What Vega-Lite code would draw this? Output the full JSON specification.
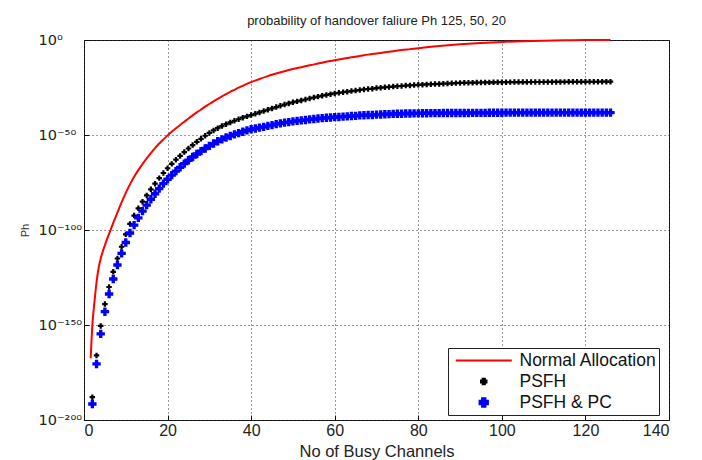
{
  "$schema": "https://vega.github.io/schema/vega-lite/v6.json",
  "width": 585,
  "height": 380,
  "autosize": {"type": "none"},
  "padding": {"left": 84, "top": 40, "right": 33, "bottom": 40},
  "background": "white",
  "config": {"font": "Liberation Sans", "view": {"stroke": "#111", "strokeWidth": 1}},
  "title": {"text": "probability of handover faliure Ph 125, 50, 20", "fontSize": 13, "fontWeight": "normal", "color": "#222", "offset": 4, "anchor": "middle"},
  "data": {"values": [
    {"series": "Normal Allocation", "n": 1.6, "log10P": -167.5},
    {"series": "Normal Allocation", "n": 2, "log10P": -150},
    {"series": "Normal Allocation", "n": 2.5, "log10P": -138},
    {"series": "Normal Allocation", "n": 3, "log10P": -127.5},
    {"series": "Normal Allocation", "n": 3.5, "log10P": -120},
    {"series": "Normal Allocation", "n": 4, "log10P": -115},
    {"series": "Normal Allocation", "n": 5, "log10P": -108},
    {"series": "Normal Allocation", "n": 6, "log10P": -102},
    {"series": "Normal Allocation", "n": 7, "log10P": -96.3},
    {"series": "Normal Allocation", "n": 8, "log10P": -90.8},
    {"series": "Normal Allocation", "n": 9, "log10P": -85.5},
    {"series": "Normal Allocation", "n": 10, "log10P": -80.5},
    {"series": "Normal Allocation", "n": 11, "log10P": -76},
    {"series": "Normal Allocation", "n": 12, "log10P": -72},
    {"series": "Normal Allocation", "n": 13, "log10P": -68.5},
    {"series": "Normal Allocation", "n": 14, "log10P": -65.3},
    {"series": "Normal Allocation", "n": 15, "log10P": -62.3},
    {"series": "Normal Allocation", "n": 16, "log10P": -59.5},
    {"series": "Normal Allocation", "n": 17, "log10P": -56.9},
    {"series": "Normal Allocation", "n": 18, "log10P": -54.5},
    {"series": "Normal Allocation", "n": 19, "log10P": -52.3},
    {"series": "Normal Allocation", "n": 20, "log10P": -50.2},
    {"series": "Normal Allocation", "n": 21, "log10P": -48.3},
    {"series": "Normal Allocation", "n": 22, "log10P": -46.5},
    {"series": "Normal Allocation", "n": 23, "log10P": -44.7},
    {"series": "Normal Allocation", "n": 24, "log10P": -43},
    {"series": "Normal Allocation", "n": 25, "log10P": -41.3},
    {"series": "Normal Allocation", "n": 26, "log10P": -39.7},
    {"series": "Normal Allocation", "n": 27, "log10P": -38.1},
    {"series": "Normal Allocation", "n": 28, "log10P": -36.6},
    {"series": "Normal Allocation", "n": 29, "log10P": -35.1},
    {"series": "Normal Allocation", "n": 30, "log10P": -33.7},
    {"series": "Normal Allocation", "n": 31, "log10P": -32.3},
    {"series": "Normal Allocation", "n": 32, "log10P": -31},
    {"series": "Normal Allocation", "n": 33, "log10P": -29.7},
    {"series": "Normal Allocation", "n": 34, "log10P": -28.5},
    {"series": "Normal Allocation", "n": 35, "log10P": -27.3},
    {"series": "Normal Allocation", "n": 36, "log10P": -26.2},
    {"series": "Normal Allocation", "n": 37, "log10P": -25.1},
    {"series": "Normal Allocation", "n": 38, "log10P": -24.1},
    {"series": "Normal Allocation", "n": 39, "log10P": -23.1},
    {"series": "Normal Allocation", "n": 40, "log10P": -22.2},
    {"series": "Normal Allocation", "n": 42, "log10P": -20.5},
    {"series": "Normal Allocation", "n": 44, "log10P": -19},
    {"series": "Normal Allocation", "n": 46, "log10P": -17.6},
    {"series": "Normal Allocation", "n": 48, "log10P": -16.4},
    {"series": "Normal Allocation", "n": 50, "log10P": -15.3},
    {"series": "Normal Allocation", "n": 52, "log10P": -14.3},
    {"series": "Normal Allocation", "n": 54, "log10P": -13.3},
    {"series": "Normal Allocation", "n": 56, "log10P": -12.4},
    {"series": "Normal Allocation", "n": 58, "log10P": -11.5},
    {"series": "Normal Allocation", "n": 60, "log10P": -10.7},
    {"series": "Normal Allocation", "n": 62, "log10P": -9.9},
    {"series": "Normal Allocation", "n": 64, "log10P": -9.1},
    {"series": "Normal Allocation", "n": 66, "log10P": -8.4},
    {"series": "Normal Allocation", "n": 68, "log10P": -7.7},
    {"series": "Normal Allocation", "n": 70, "log10P": -7.1},
    {"series": "Normal Allocation", "n": 72, "log10P": -6.5},
    {"series": "Normal Allocation", "n": 74, "log10P": -5.9},
    {"series": "Normal Allocation", "n": 76, "log10P": -5.3},
    {"series": "Normal Allocation", "n": 78, "log10P": -4.8},
    {"series": "Normal Allocation", "n": 80, "log10P": -4.3},
    {"series": "Normal Allocation", "n": 85, "log10P": -3.2},
    {"series": "Normal Allocation", "n": 90, "log10P": -2.3},
    {"series": "Normal Allocation", "n": 95, "log10P": -1.6},
    {"series": "Normal Allocation", "n": 100, "log10P": -1.0},
    {"series": "Normal Allocation", "n": 105, "log10P": -0.6},
    {"series": "Normal Allocation", "n": 110, "log10P": -0.35},
    {"series": "Normal Allocation", "n": 115, "log10P": -0.15},
    {"series": "Normal Allocation", "n": 120, "log10P": -0.05},
    {"series": "Normal Allocation", "n": 126, "log10P": 0},
    {"series": "PSFH", "n": 2, "log10P": -188},
    {"series": "PSFH", "n": 3, "log10P": -166},
    {"series": "PSFH", "n": 4, "log10P": -150.5},
    {"series": "PSFH", "n": 5, "log10P": -139},
    {"series": "PSFH", "n": 6, "log10P": -130},
    {"series": "PSFH", "n": 7, "log10P": -122},
    {"series": "PSFH", "n": 8, "log10P": -115},
    {"series": "PSFH", "n": 9, "log10P": -108.8},
    {"series": "PSFH", "n": 10, "log10P": -102.3},
    {"series": "PSFH", "n": 11, "log10P": -96.8},
    {"series": "PSFH", "n": 12, "log10P": -92.4},
    {"series": "PSFH", "n": 13, "log10P": -88.6},
    {"series": "PSFH", "n": 14, "log10P": -85.1},
    {"series": "PSFH", "n": 15, "log10P": -81.8},
    {"series": "PSFH", "n": 16, "log10P": -78.6},
    {"series": "PSFH", "n": 17, "log10P": -75.6},
    {"series": "PSFH", "n": 18, "log10P": -72.7},
    {"series": "PSFH", "n": 19, "log10P": -70},
    {"series": "PSFH", "n": 20, "log10P": -67.5},
    {"series": "PSFH", "n": 21, "log10P": -65.2},
    {"series": "PSFH", "n": 22, "log10P": -63},
    {"series": "PSFH", "n": 23, "log10P": -61},
    {"series": "PSFH", "n": 24, "log10P": -59},
    {"series": "PSFH", "n": 25, "log10P": -57.1},
    {"series": "PSFH", "n": 26, "log10P": -55.3},
    {"series": "PSFH", "n": 27, "log10P": -53.6},
    {"series": "PSFH", "n": 28, "log10P": -52},
    {"series": "PSFH", "n": 29, "log10P": -50.4},
    {"series": "PSFH", "n": 30, "log10P": -48.9},
    {"series": "PSFH", "n": 31, "log10P": -47.6},
    {"series": "PSFH", "n": 32, "log10P": -46.4},
    {"series": "PSFH", "n": 33, "log10P": -45.3},
    {"series": "PSFH", "n": 34, "log10P": -44.3},
    {"series": "PSFH", "n": 35, "log10P": -43.4},
    {"series": "PSFH", "n": 36, "log10P": -42.5},
    {"series": "PSFH", "n": 37, "log10P": -41.7},
    {"series": "PSFH", "n": 38, "log10P": -40.9},
    {"series": "PSFH", "n": 39, "log10P": -40.2},
    {"series": "PSFH", "n": 40, "log10P": -39.5},
    {"series": "PSFH", "n": 41, "log10P": -38.8},
    {"series": "PSFH", "n": 42, "log10P": -38.1},
    {"series": "PSFH", "n": 43, "log10P": -37.4},
    {"series": "PSFH", "n": 44, "log10P": -36.7},
    {"series": "PSFH", "n": 45, "log10P": -36},
    {"series": "PSFH", "n": 46, "log10P": -35.3},
    {"series": "PSFH", "n": 47, "log10P": -34.6},
    {"series": "PSFH", "n": 48, "log10P": -34},
    {"series": "PSFH", "n": 49, "log10P": -33.4},
    {"series": "PSFH", "n": 50, "log10P": -32.8},
    {"series": "PSFH", "n": 51, "log10P": -32.3},
    {"series": "PSFH", "n": 52, "log10P": -31.8},
    {"series": "PSFH", "n": 53, "log10P": -31.3},
    {"series": "PSFH", "n": 54, "log10P": -30.8},
    {"series": "PSFH", "n": 55, "log10P": -30.3},
    {"series": "PSFH", "n": 56, "log10P": -29.8},
    {"series": "PSFH", "n": 57, "log10P": -29.3},
    {"series": "PSFH", "n": 58, "log10P": -28.9},
    {"series": "PSFH", "n": 59, "log10P": -28.5},
    {"series": "PSFH", "n": 60, "log10P": -28.1},
    {"series": "PSFH", "n": 61, "log10P": -27.8},
    {"series": "PSFH", "n": 62, "log10P": -27.5},
    {"series": "PSFH", "n": 63, "log10P": -27.2},
    {"series": "PSFH", "n": 64, "log10P": -26.9},
    {"series": "PSFH", "n": 65, "log10P": -26.6},
    {"series": "PSFH", "n": 66, "log10P": -26.3},
    {"series": "PSFH", "n": 67, "log10P": -26},
    {"series": "PSFH", "n": 68, "log10P": -25.8},
    {"series": "PSFH", "n": 69, "log10P": -25.6},
    {"series": "PSFH", "n": 70, "log10P": -25.3},
    {"series": "PSFH", "n": 71, "log10P": -25.1},
    {"series": "PSFH", "n": 72, "log10P": -24.9},
    {"series": "PSFH", "n": 73, "log10P": -24.7},
    {"series": "PSFH", "n": 74, "log10P": -24.5},
    {"series": "PSFH", "n": 75, "log10P": -24.3},
    {"series": "PSFH", "n": 76, "log10P": -24.2},
    {"series": "PSFH", "n": 77, "log10P": -24},
    {"series": "PSFH", "n": 78, "log10P": -23.9},
    {"series": "PSFH", "n": 79, "log10P": -23.7},
    {"series": "PSFH", "n": 80, "log10P": -23.6},
    {"series": "PSFH", "n": 81, "log10P": -23.5},
    {"series": "PSFH", "n": 82, "log10P": -23.4},
    {"series": "PSFH", "n": 83, "log10P": -23.3},
    {"series": "PSFH", "n": 84, "log10P": -23.2},
    {"series": "PSFH", "n": 85, "log10P": -23.1},
    {"series": "PSFH", "n": 86, "log10P": -23},
    {"series": "PSFH", "n": 87, "log10P": -22.9},
    {"series": "PSFH", "n": 88, "log10P": -22.8},
    {"series": "PSFH", "n": 89, "log10P": -22.7},
    {"series": "PSFH", "n": 90, "log10P": -22.6},
    {"series": "PSFH", "n": 91, "log10P": -22.55},
    {"series": "PSFH", "n": 92, "log10P": -22.5},
    {"series": "PSFH", "n": 93, "log10P": -22.46},
    {"series": "PSFH", "n": 94, "log10P": -22.42},
    {"series": "PSFH", "n": 95, "log10P": -22.38},
    {"series": "PSFH", "n": 96, "log10P": -22.34},
    {"series": "PSFH", "n": 97, "log10P": -22.3},
    {"series": "PSFH", "n": 98, "log10P": -22.27},
    {"series": "PSFH", "n": 99, "log10P": -22.24},
    {"series": "PSFH", "n": 100, "log10P": -22.2},
    {"series": "PSFH", "n": 101, "log10P": -22.18},
    {"series": "PSFH", "n": 102, "log10P": -22.17},
    {"series": "PSFH", "n": 103, "log10P": -22.16},
    {"series": "PSFH", "n": 104, "log10P": -22.15},
    {"series": "PSFH", "n": 105, "log10P": -22.14},
    {"series": "PSFH", "n": 106, "log10P": -22.13},
    {"series": "PSFH", "n": 107, "log10P": -22.12},
    {"series": "PSFH", "n": 108, "log10P": -22.11},
    {"series": "PSFH", "n": 109, "log10P": -22.1},
    {"series": "PSFH", "n": 110, "log10P": -22.09},
    {"series": "PSFH", "n": 111, "log10P": -22.08},
    {"series": "PSFH", "n": 112, "log10P": -22.07},
    {"series": "PSFH", "n": 113, "log10P": -22.06},
    {"series": "PSFH", "n": 114, "log10P": -22.05},
    {"series": "PSFH", "n": 115, "log10P": -22.04},
    {"series": "PSFH", "n": 116, "log10P": -22.03},
    {"series": "PSFH", "n": 117, "log10P": -22.02},
    {"series": "PSFH", "n": 118, "log10P": -22.01},
    {"series": "PSFH", "n": 119, "log10P": -22},
    {"series": "PSFH", "n": 120, "log10P": -21.99},
    {"series": "PSFH", "n": 121, "log10P": -21.98},
    {"series": "PSFH", "n": 122, "log10P": -21.97},
    {"series": "PSFH", "n": 123, "log10P": -21.96},
    {"series": "PSFH", "n": 124, "log10P": -21.95},
    {"series": "PSFH", "n": 125, "log10P": -21.95},
    {"series": "PSFH", "n": 126, "log10P": -21.94},
    {"series": "PSFH & PC", "n": 2, "log10P": -191.6},
    {"series": "PSFH & PC", "n": 3, "log10P": -170.5},
    {"series": "PSFH & PC", "n": 4, "log10P": -154.7},
    {"series": "PSFH & PC", "n": 5, "log10P": -143},
    {"series": "PSFH & PC", "n": 6, "log10P": -133.7},
    {"series": "PSFH & PC", "n": 7, "log10P": -125.8},
    {"series": "PSFH & PC", "n": 8, "log10P": -118.4},
    {"series": "PSFH & PC", "n": 9, "log10P": -112.3},
    {"series": "PSFH & PC", "n": 10, "log10P": -106.6},
    {"series": "PSFH & PC", "n": 11, "log10P": -101.6},
    {"series": "PSFH & PC", "n": 12, "log10P": -97.4},
    {"series": "PSFH & PC", "n": 13, "log10P": -93.6},
    {"series": "PSFH & PC", "n": 14, "log10P": -90.1},
    {"series": "PSFH & PC", "n": 15, "log10P": -86.9},
    {"series": "PSFH & PC", "n": 16, "log10P": -83.8},
    {"series": "PSFH & PC", "n": 17, "log10P": -80.9},
    {"series": "PSFH & PC", "n": 18, "log10P": -78.2},
    {"series": "PSFH & PC", "n": 19, "log10P": -75.6},
    {"series": "PSFH & PC", "n": 20, "log10P": -73.3},
    {"series": "PSFH & PC", "n": 21, "log10P": -71.1},
    {"series": "PSFH & PC", "n": 22, "log10P": -69},
    {"series": "PSFH & PC", "n": 23, "log10P": -67},
    {"series": "PSFH & PC", "n": 24, "log10P": -65.1},
    {"series": "PSFH & PC", "n": 25, "log10P": -63.3},
    {"series": "PSFH & PC", "n": 26, "log10P": -61.6},
    {"series": "PSFH & PC", "n": 27, "log10P": -60},
    {"series": "PSFH & PC", "n": 28, "log10P": -58.5},
    {"series": "PSFH & PC", "n": 29, "log10P": -57.1},
    {"series": "PSFH & PC", "n": 30, "log10P": -55.7},
    {"series": "PSFH & PC", "n": 31, "log10P": -54.5},
    {"series": "PSFH & PC", "n": 32, "log10P": -53.3},
    {"series": "PSFH & PC", "n": 33, "log10P": -52.3},
    {"series": "PSFH & PC", "n": 34, "log10P": -51.3},
    {"series": "PSFH & PC", "n": 35, "log10P": -50.5},
    {"series": "PSFH & PC", "n": 36, "log10P": -49.7},
    {"series": "PSFH & PC", "n": 37, "log10P": -49},
    {"series": "PSFH & PC", "n": 38, "log10P": -48.3},
    {"series": "PSFH & PC", "n": 39, "log10P": -47.6},
    {"series": "PSFH & PC", "n": 40, "log10P": -47},
    {"series": "PSFH & PC", "n": 41, "log10P": -46.6},
    {"series": "PSFH & PC", "n": 42, "log10P": -46.1},
    {"series": "PSFH & PC", "n": 43, "log10P": -45.7},
    {"series": "PSFH & PC", "n": 44, "log10P": -45.2},
    {"series": "PSFH & PC", "n": 45, "log10P": -44.8},
    {"series": "PSFH & PC", "n": 46, "log10P": -44.3},
    {"series": "PSFH & PC", "n": 47, "log10P": -43.9},
    {"series": "PSFH & PC", "n": 48, "log10P": -43.5},
    {"series": "PSFH & PC", "n": 49, "log10P": -43.2},
    {"series": "PSFH & PC", "n": 50, "log10P": -42.8},
    {"series": "PSFH & PC", "n": 51, "log10P": -42.6},
    {"series": "PSFH & PC", "n": 52, "log10P": -42.3},
    {"series": "PSFH & PC", "n": 53, "log10P": -42.1},
    {"series": "PSFH & PC", "n": 54, "log10P": -41.8},
    {"series": "PSFH & PC", "n": 55, "log10P": -41.6},
    {"series": "PSFH & PC", "n": 56, "log10P": -41.3},
    {"series": "PSFH & PC", "n": 57, "log10P": -41.1},
    {"series": "PSFH & PC", "n": 58, "log10P": -40.9},
    {"series": "PSFH & PC", "n": 59, "log10P": -40.8},
    {"series": "PSFH & PC", "n": 60, "log10P": -40.6},
    {"series": "PSFH & PC", "n": 61, "log10P": -40.5},
    {"series": "PSFH & PC", "n": 62, "log10P": -40.3},
    {"series": "PSFH & PC", "n": 63, "log10P": -40.2},
    {"series": "PSFH & PC", "n": 64, "log10P": -40},
    {"series": "PSFH & PC", "n": 65, "log10P": -39.9},
    {"series": "PSFH & PC", "n": 66, "log10P": -39.7},
    {"series": "PSFH & PC", "n": 67, "log10P": -39.6},
    {"series": "PSFH & PC", "n": 68, "log10P": -39.5},
    {"series": "PSFH & PC", "n": 69, "log10P": -39.5},
    {"series": "PSFH & PC", "n": 70, "log10P": -39.3},
    {"series": "PSFH & PC", "n": 71, "log10P": -39.2},
    {"series": "PSFH & PC", "n": 72, "log10P": -39.1},
    {"series": "PSFH & PC", "n": 73, "log10P": -39},
    {"series": "PSFH & PC", "n": 74, "log10P": -38.9},
    {"series": "PSFH & PC", "n": 75, "log10P": -38.8},
    {"series": "PSFH & PC", "n": 76, "log10P": -38.8},
    {"series": "PSFH & PC", "n": 77, "log10P": -38.7},
    {"series": "PSFH & PC", "n": 78, "log10P": -38.7},
    {"series": "PSFH & PC", "n": 79, "log10P": -38.6},
    {"series": "PSFH & PC", "n": 80, "log10P": -38.6},
    {"series": "PSFH & PC", "n": 81, "log10P": -38.55},
    {"series": "PSFH & PC", "n": 82, "log10P": -38.55},
    {"series": "PSFH & PC", "n": 83, "log10P": -38.5},
    {"series": "PSFH & PC", "n": 84, "log10P": -38.5},
    {"series": "PSFH & PC", "n": 85, "log10P": -38.5},
    {"series": "PSFH & PC", "n": 86, "log10P": -38.45},
    {"series": "PSFH & PC", "n": 87, "log10P": -38.45},
    {"series": "PSFH & PC", "n": 88, "log10P": -38.45},
    {"series": "PSFH & PC", "n": 89, "log10P": -38.4},
    {"series": "PSFH & PC", "n": 90, "log10P": -38.4},
    {"series": "PSFH & PC", "n": 91, "log10P": -38.4},
    {"series": "PSFH & PC", "n": 92, "log10P": -38.4},
    {"series": "PSFH & PC", "n": 93, "log10P": -38.35},
    {"series": "PSFH & PC", "n": 94, "log10P": -38.35},
    {"series": "PSFH & PC", "n": 95, "log10P": -38.35},
    {"series": "PSFH & PC", "n": 96, "log10P": -38.35},
    {"series": "PSFH & PC", "n": 97, "log10P": -38.3},
    {"series": "PSFH & PC", "n": 98, "log10P": -38.3},
    {"series": "PSFH & PC", "n": 99, "log10P": -38.3},
    {"series": "PSFH & PC", "n": 100, "log10P": -38.3},
    {"series": "PSFH & PC", "n": 101, "log10P": -38.25},
    {"series": "PSFH & PC", "n": 102, "log10P": -38.25},
    {"series": "PSFH & PC", "n": 103, "log10P": -38.25},
    {"series": "PSFH & PC", "n": 104, "log10P": -38.25},
    {"series": "PSFH & PC", "n": 105, "log10P": -38.25},
    {"series": "PSFH & PC", "n": 106, "log10P": -38.25},
    {"series": "PSFH & PC", "n": 107, "log10P": -38.25},
    {"series": "PSFH & PC", "n": 108, "log10P": -38.25},
    {"series": "PSFH & PC", "n": 109, "log10P": -38.25},
    {"series": "PSFH & PC", "n": 110, "log10P": -38.25},
    {"series": "PSFH & PC", "n": 111, "log10P": -38.2},
    {"series": "PSFH & PC", "n": 112, "log10P": -38.2},
    {"series": "PSFH & PC", "n": 113, "log10P": -38.2},
    {"series": "PSFH & PC", "n": 114, "log10P": -38.2},
    {"series": "PSFH & PC", "n": 115, "log10P": -38.2},
    {"series": "PSFH & PC", "n": 116, "log10P": -38.2},
    {"series": "PSFH & PC", "n": 117, "log10P": -38.2},
    {"series": "PSFH & PC", "n": 118, "log10P": -38.2},
    {"series": "PSFH & PC", "n": 119, "log10P": -38.2},
    {"series": "PSFH & PC", "n": 120, "log10P": -38.2},
    {"series": "PSFH & PC", "n": 121, "log10P": -38.2},
    {"series": "PSFH & PC", "n": 122, "log10P": -38.2},
    {"series": "PSFH & PC", "n": 123, "log10P": -38.2},
    {"series": "PSFH & PC", "n": 124, "log10P": -38.2},
    {"series": "PSFH & PC", "n": 125, "log10P": -38.2},
    {"series": "PSFH & PC", "n": 126, "log10P": -38.2}
  ]},
  "encoding": {
    "x": {
      "field": "n", "type": "quantitative",
      "scale": {"domain": [0, 140], "nice": false, "zero": false},
      "axis": {
        "values": [0, 20, 40, 60, 80, 100, 120, 140],
        "title": "No of Busy Channels",
        "grid": true, "gridDash": [1, 3], "gridColor": "#333", "gridWidth": 1,
        "domain": false, "ticks": true, "tickSize": -5, "tickColor": "#111", "tickWidth": 1,
        "labelFontSize": 16, "labelPadding": 7, "labelColor": "#222", "labelFont": "Liberation Sans",
        "titleFontSize": 16.5, "titleFontWeight": "normal", "titleColor": "#222", "titleFont": "Liberation Sans",
        "titleBaseline": "alphabetic", "titleY": 36
      }
    },
    "y": {
      "field": "log10P", "type": "quantitative",
      "scale": {"domain": [-200, 0], "nice": false, "zero": false},
      "axis": {
        "values": [-200, -150, -100, -50, 0],
        "labelExpr": "datum.value == 0 ? '10⁰' : datum.value == -50 ? '10⁻⁵⁰' : datum.value == -100 ? '10⁻¹⁰⁰' : datum.value == -150 ? '10⁻¹⁵⁰' : '10⁻²⁰⁰'",
        "title": "Ph",
        "grid": true, "gridDash": [1, 3], "gridColor": "#333", "gridWidth": 1,
        "domain": false, "ticks": true, "tickSize": -5, "tickColor": "#111", "tickWidth": 1,
        "labelFontSize": 14.5, "labelAlign": "left", "labelPadding": 51, "labelColor": "#222", "labelFont": "DejaVu Sans",
        "titleFontSize": 11, "titleFontWeight": "normal", "titlePadding": 8, "titleColor": "#333"
      }
    },
    "color": {
      "field": "series", "type": "nominal",
      "scale": {"domain": ["Normal Allocation", "PSFH", "PSFH & PC"], "range": ["#ff0000", "#000000", "#0000ff"]},
      "legend": {
        "title": null,
        "orient": "none", "legendX": 364, "legendY": 308,
        "direction": "vertical",
        "strokeColor": "#222", "fillColor": "white",
        "padding": 2,
        "symbolOffset": 25,
        "symbolSize": 3136,
        "clipHeight": 21,
        "rowPadding": 0,
        "labelFontSize": 17.5, "labelOffset": 27, "labelColor": "#111", "labelFont": "Liberation Sans",
        "labelExpr": "datum.label + '\u00a0\u00a0\u00a0\u00a0'",
        "encode": {
          "symbols": {
            "update": {
              "shape": {"signal": "datum.value === 'Normal Allocation' ? 'stroke' : 'cross'"},
              "size": {"signal": "datum.value === 'Normal Allocation' ? 3136 : datum.value === 'PSFH' ? 30 : 70"},
              "fill": {"signal": "datum.value === 'Normal Allocation' ? 'transparent' : datum.value === 'PSFH' ? '#000000' : '#0000ff'"},
              "stroke": {"signal": "datum.value === 'Normal Allocation' ? '#ff0000' : 'transparent'"},
              "strokeWidth": {"value": 2},
              "opacity": {"value": 1}
            }
          }
        }
      }
    }
  },
  "layer": [
    {
      "transform": [{"filter": "datum.series === 'Normal Allocation'"}],
      "mark": {"type": "line", "strokeWidth": 2, "interpolate": "monotone"}
    },
    {
      "transform": [{"filter": "datum.series === 'PSFH'"}],
      "mark": {"type": "point", "shape": "cross", "filled": true, "size": 30, "opacity": 1}
    },
    {
      "transform": [{"filter": "datum.series === 'PSFH & PC'"}],
      "mark": {"type": "point", "shape": "cross", "filled": true, "size": 70, "opacity": 1}
    }
  ]
}
